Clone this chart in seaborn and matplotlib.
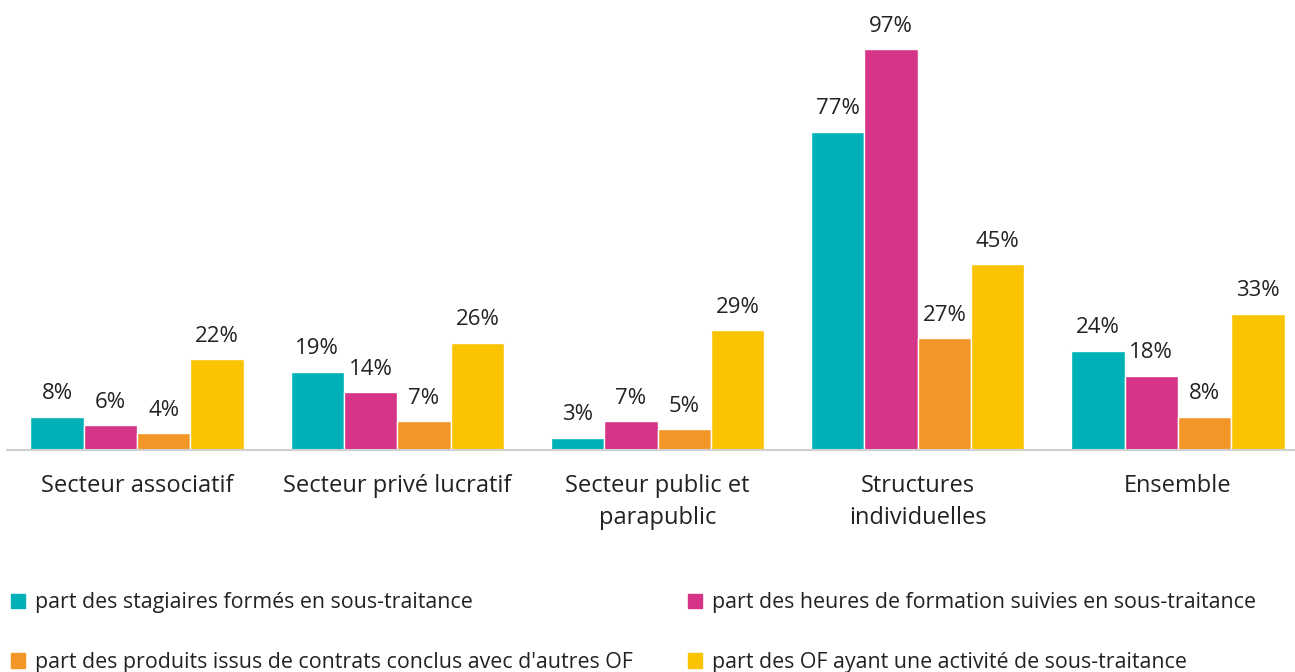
import numpy as np
import pandas as pd
import matplotlib
matplotlib.use('Agg')
import matplotlib.pyplot as plt
import seaborn as sns

# Data
categories = ['Secteur associatif', 'Secteur privé lucratif', 'Secteur public et\nparapublic',
              'Structures\nindividuelles', 'Ensemble']
series = ['part des stagiaires formés en sous-traitance',
          'part des heures de formation suivies en sous-traitance',
          "part des produits issus de contrats conclus avec d'autres OF",
          'part des OF ayant une activité de sous-traitance']
stagiaires = [8, 19, 3, 77, 24]
heures = [6, 14, 7, 97, 18]
produits = [4, 7, 5, 27, 8]
of_activite = [22, 26, 29, 45, 33]
colors = ['#00B2B8', '#D63487', '#F39628', '#FBC403']

rows = []
for s, vals in zip(series, [stagiaires, heures, produits, of_activite]):
    for c, v in zip(categories, vals):
        rows.append({'cat': c, 'serie': s, 'val': v})
df = pd.DataFrame(rows)

sns.set_theme(style='white')
plt.rcParams['font.family'] = ['Open Sans', 'DejaVu Sans']

fig = plt.figure(figsize=(12.95, 6.72), dpi=100)
ax = fig.add_axes([7 / 1295, (672 - 450) / 672, 1288 / 1295, 413 / 672])

sns.barplot(data=df, x='cat', y='val', hue='serie', palette=colors,
            width=0.82, saturation=1, ax=ax, legend=False)

for cont in ax.containers:
    ax.bar_label(cont, labels=[f'{int(round(b.get_height()))}%' for b in cont],
                 padding=9, fontsize=16, color='#222222')

ax.set_ylim(0, 100)
ax.set_xlim(-0.5, 4.45)
ax.set_xlabel('')
ax.set_ylabel('')
ax.set_yticks([])
for side in ['top', 'right', 'left']:
    ax.spines[side].set_visible(False)
ax.spines['bottom'].set_color('#D0D0D0')
ax.spines['bottom'].set_linewidth(1.5)
ax.tick_params(axis='x', length=0, pad=17, labelsize=17, labelcolor='#222222')
for t in ax.get_xticklabels():
    t.set_linespacing(1.45)

# legend filled row by row like the original
handles = [plt.Rectangle((0, 0), 1, 1, color=c) for c in colors]
order = [0, 2, 1, 3]
fig.legend([handles[i] for i in order], [series[i] for i in order],
           loc='upper left', bbox_to_anchor=(-0.006, 0.147),
           ncol=2, frameon=False, fontsize=15.4, handlelength=0.65, handleheight=0.65,
           handletextpad=0.45, columnspacing=2.6, labelspacing=1.8,
           labelcolor='#222222')

fig.savefig('out.png', dpi=100)
